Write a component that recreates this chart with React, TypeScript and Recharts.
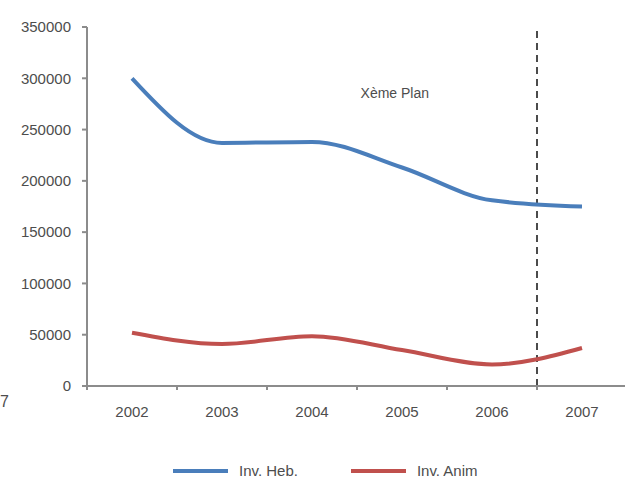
import {
  LineChart,
  Line,
  XAxis,
  YAxis,
  ReferenceLine,
  ReferenceDot,
  Legend,
} from 'recharts';

const years = ['2002', '2003', '2004', '2005', '2006', '2007'];
const invHeb = [300000, 237000, 238000, 213000, 181000, 175000];
const invAnim = [52000, 41000, 48500, 35000, 21000, 37000];
const yTicks = [0, 50000, 100000, 150000, 200000, 250000, 300000, 350000];
const planLabel = 'Xème Plan';

const data = years.map((year, i) => ({ x: i, year, heb: invHeb[i], anim: invAnim[i] }));
const centerTicks = years.map((_, i) => i);
const edgeTicks = [...years.map((_, i) => i - 0.5), years.length - 0.5];

const font = "'Liberation Sans', Arial, sans-serif";
const axisGray = '#8c8c8c';
const textGray = '#4d4d4d';

function LegendBox() {
  const item = (color: string, label: string, gap: number) => (
    <div style={{ display: 'flex', alignItems: 'center', marginRight: gap }}>
      <div style={{ width: 55, height: 4, background: color, marginRight: 11 }} />
      <span style={{ fontSize: 15, color: textGray, fontFamily: font }}>{label}</span>
    </div>
  );
  return (
    <div style={{ display: 'flex', paddingLeft: 173, paddingTop: 7 }}>
      {item('#4a7ebb', 'Inv. Heb.', 53)}
      {item('#c0504d', 'Inv. Anim', 0)}
    </div>
  );
}

export default function App() {
  return (
    <div
      style={{
        position: 'absolute',
        top: 0,
        left: 0,
        width: 625,
        height: 479,
        overflow: 'hidden',
        background: '#fff',
      }}
    >
      <span
        style={{
          position: 'absolute',
          left: 0,
          top: 393,
          fontSize: 16,
          color: textGray,
          fontFamily: font,
        }}
      >
        7
      </span>
      <LineChart width={640} height={479} data={data} margin={{ top: 27, right: 13, left: 0, bottom: 0 }}>
        <XAxis
          xAxisId="a"
          dataKey="x"
          type="number"
          domain={[-0.5, years.length - 0.5]}
          ticks={edgeTicks}
          tickFormatter={() => ''}
          height={4}
          tickSize={4}
          stroke={axisGray}
          strokeWidth={2}
        />
        <XAxis
          xAxisId="b"
          dataKey="x"
          type="number"
          domain={[-0.5, years.length - 0.5]}
          ticks={centerTicks}
          tickFormatter={(v: number) => years[v] ?? ''}
          height={65}
          axisLine={false}
          tickLine={false}
          tickSize={0}
          tickMargin={16}
          tick={{ fontSize: 15, fill: textGray, fontFamily: font }}
        />
        <YAxis
          domain={[0, 350000]}
          ticks={yTicks}
          width={87}
          tickSize={5}
          tickMargin={11}
          stroke={axisGray}
          strokeWidth={2}
          tick={{ fontSize: 15, fill: textGray, fontFamily: font }}
        />
        <Legend verticalAlign="bottom" height={24} content={() => <LegendBox />} />
        <ReferenceLine
          xAxisId="a"
          x={4.5}
          stroke="#111"
          strokeWidth={1.5}
          strokeDasharray="7 5"
        />
        <ReferenceDot
          xAxisId="a"
          x={2.92}
          y={286000}
          r={0}
          fill="none"
          stroke="none"
          label={{ value: planLabel, fontSize: 14, fill: textGray, fontFamily: font, position: 'center' }}
        />
        <Line
          xAxisId="b"
          type="monotone"
          dataKey="heb"
          stroke="#4a7ebb"
          strokeWidth={4}
          dot={false}
          name="Inv. Heb."
          isAnimationActive={false}
        />
        <Line
          xAxisId="b"
          type="monotone"
          dataKey="anim"
          stroke="#c0504d"
          strokeWidth={4}
          dot={false}
          name="Inv. Anim"
          isAnimationActive={false}
        />
      </LineChart>
    </div>
  );
}
